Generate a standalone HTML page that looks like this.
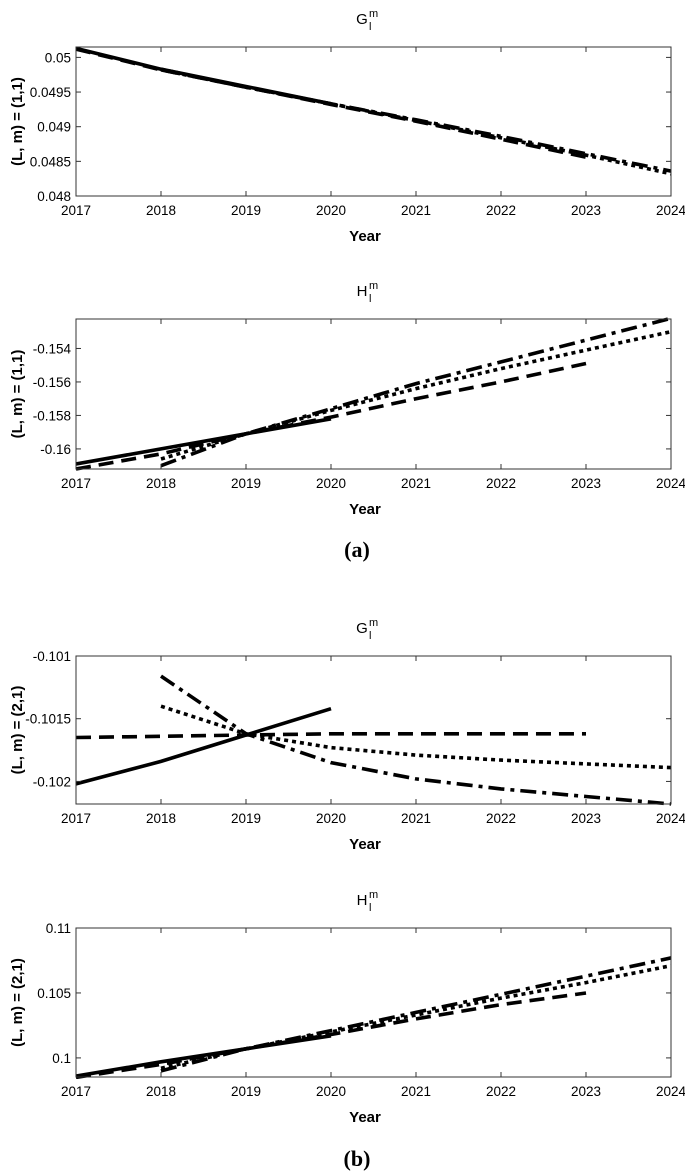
<!DOCTYPE html>
<html><head><meta charset="utf-8"><style>
body{margin:0;background:#fff;width:685px;height:1174px;overflow:hidden}
svg{display:block}
</style></head><body>
<svg id="fig" width="685" height="1174" xmlns="http://www.w3.org/2000/svg"></svg>
<script>
const years = [2017,2018,2019,2020,2021,2022,2023,2024];
const xTicks = ["2017","2018","2019","2020","2021","2022","2023","2024"];
// panel a1: G, (1,1)
const a1Solid = [0.05013,0.04983,0.04958,0.04933];
const a1Dashed = [0.05012,0.04982,0.04957,0.04932,0.04908,0.04882,0.04856];
const a1Dotted = [0.04983,0.04957,0.04933,0.04909,0.04884,0.04859,0.04832];
const a1DashDot = [0.04982,0.04957,0.04933,0.0491,0.04886,0.04861,0.04836];
const a1Ticks = [0.048,0.0485,0.049,0.0495,0.05];
const a1TickLabels = ["0.048","0.0485","0.049","0.0495","0.05"];
// panel a2: H, (1,1)
const a2Solid = [-0.1609,-0.1600,-0.1591,-0.1582];
const a2Dashed = [-0.1612,-0.1603,-0.1591,-0.1581,-0.1570,-0.1560,-0.1549];
const a2Dotted = [-0.1606,-0.1591,-0.1577,-0.1564,-0.1552,-0.1541,-0.1530];
const a2DashDot = [-0.1610,-0.1591,-0.1576,-0.1561,-0.1548,-0.1535,-0.1522];
const a2Ticks = [-0.16,-0.158,-0.156,-0.154];
const a2TickLabels = ["-0.16","-0.158","-0.156","-0.154"];
// panel b1: G, (2,1)
const b1Solid = [-0.10202,-0.10184,-0.10163,-0.10142];
const b1Dashed = [-0.10165,-0.10164,-0.10163,-0.10162,-0.10162,-0.10162,-0.10162];
const b1Dotted = [-0.1014,-0.10162,-0.10173,-0.10179,-0.10183,-0.10186,-0.10189];
const b1DashDot = [-0.10116,-0.10162,-0.10185,-0.10198,-0.10206,-0.10212,-0.10218];
const b1Ticks = [-0.102,-0.1015,-0.101];
const b1TickLabels = ["-0.102","-0.1015","-0.101"];
// panel b2: H, (2,1)
const b2Solid = [0.0986,0.0997,0.1007,0.1017];
const b2Dashed = [0.0985,0.0995,0.1007,0.1018,0.1030,0.1041,0.1050];
const b2Dotted = [0.0992,0.1007,0.1020,0.1033,0.1046,0.1058,0.1071];
const b2DashDot = [0.0990,0.1007,0.1021,0.1035,0.1049,0.1063,0.1077];
const b2Ticks = [0.1,0.105,0.11];
const b2TickLabels = ["0.1","0.105","0.11"];

const NS="http://www.w3.org/2000/svg";
const svg=document.getElementById('fig');
function mk(tag,attrs,parent){const e=document.createElementNS(NS,tag);for(const k in attrs)e.setAttribute(k,attrs[k]);(parent||svg).appendChild(e);return e;}
const X0=76,X1=671;
function xs(yr){return X0+(yr-2017)/7*(X1-X0);}

function panel(id,top,bot,ymin,ymax,ticks,labels,letter,lm,series){
  const g=mk('g',{});
  
  
  const ys=v=>bot-(v-ymin)/(ymax-ymin)*(bot-top);
  const t=mk('text',{x:362,y:top-23,'font-family':'Liberation Sans, sans-serif','font-size':'15','text-anchor':'middle'},g);
  
  
  t.textContent=letter;
  const sup=mk('text',{x:369,y:top-30,'font-family':'Liberation Sans, sans-serif','font-size':'11'},g);
  sup.textContent='m';
  const sub=mk('text',{x:369,y:top-17,'font-family':'Liberation Sans, sans-serif','font-size':'11'},g);
  sub.textContent='l';
  const cp=mk('clipPath',{id:'c'+id},g);
  mk('rect',{x:X0,y:top-2,width:X1-X0,height:bot-top+4},cp);
  const lg=mk('g',{'clip-path':'url(#c'+id+')'},g);
  const styles={solid:'',dashed:'15 8',dotted:'4 4',dashdot:'16 6 4 6'};
  series.forEach(s=>{
    const pts=s.vals.map((v,i)=>xs(years[s.start+i]).toFixed(1)+','+ys(v).toFixed(1)).join(' ');
    const pl=mk('polyline',{points:pts,fill:'none',stroke:'#000','stroke-width':'3.6','stroke-dasharray':styles[s.style]},lg);
    
    
  });
  const fr=mk('rect',{x:X0,y:top,width:X1-X0,height:bot-top,fill:'none',stroke:'#333','stroke-width':'1'},g);
  
  
  xTicks.forEach((lab,i)=>{
    const x=xs(years[i]);
    mk('line',{x1:x,y1:bot,x2:x,y2:bot-5,stroke:'#333'},g);
    mk('line',{x1:x,y1:top,x2:x,y2:top+5,stroke:'#333'},g);
    const tl=mk('text',{x:x,y:bot+19,'font-family':'Liberation Sans, sans-serif','font-size':'13.5','text-anchor':'middle'},g);
    
    
    tl.textContent=lab;
  });
  ticks.forEach((v,i)=>{
    const y=ys(v);
    mk('line',{x1:X0,y1:y,x2:X0+5,y2:y,stroke:'#333'},g);
    mk('line',{x1:X1,y1:y,x2:X1-5,y2:y,stroke:'#333'},g);
    const tl=mk('text',{x:X0-5,y:y+5,'font-family':'Liberation Sans, sans-serif','font-size':'13.5','text-anchor':'end'},g);
    
    
    tl.textContent=labels[i];
  });
  const xl=mk('text',{x:365,y:bot+45,'font-family':'Liberation Sans, sans-serif','font-size':'15','font-weight':'bold','text-anchor':'middle'},g);
  
  
  xl.textContent='Year';
  const cy=(top+bot)/2;
  const yl=mk('text',{x:lm,y:cy,'font-family':'Liberation Sans, sans-serif','font-size':'15','font-weight':'bold','text-anchor':'middle',transform:'rotate(-90 '+lm+' '+cy+')'},g);
  
  
  yl.textContent=id.startsWith('a')?'(L, m) = (1,1)':'(L, m) = (2,1)';
}
function S(vals,start,style){return {vals,start,style};}
panel('a1',47,196,0.048,0.05015,a1Ticks,a1TickLabels,'G',22,[S(a1Solid,0,'solid'),S(a1Dashed,0,'dashed'),S(a1Dotted,1,'dotted'),S(a1DashDot,1,'dashdot')]);
panel('a2',319,469,-0.1612,-0.15224,a2Ticks,a2TickLabels,'H',22,[S(a2Solid,0,'solid'),S(a2Dashed,0,'dashed'),S(a2Dotted,1,'dotted'),S(a2DashDot,1,'dashdot')]);
panel('b1',656,804,-0.10218,-0.101,b1Ticks,b1TickLabels,'G',22,[S(b1Solid,0,'solid'),S(b1Dashed,0,'dashed'),S(b1Dotted,1,'dotted'),S(b1DashDot,1,'dashdot')]);
panel('b2',928,1077,0.09853,0.11,b2Ticks,b2TickLabels,'H',22,[S(b2Solid,0,'solid'),S(b2Dashed,0,'dashed'),S(b2Dotted,1,'dotted'),S(b2DashDot,1,'dashdot')]);
const ca=mk('text',{x:357,y:557,'font-family':'Liberation Serif, serif','font-size':'22','font-weight':'bold','text-anchor':'middle'});


ca.textContent='(a)';
const cb=mk('text',{x:357,y:1166,'font-family':'Liberation Serif, serif','font-size':'22','font-weight':'bold','text-anchor':'middle'});


cb.textContent='(b)';
</script>
</body></html>
